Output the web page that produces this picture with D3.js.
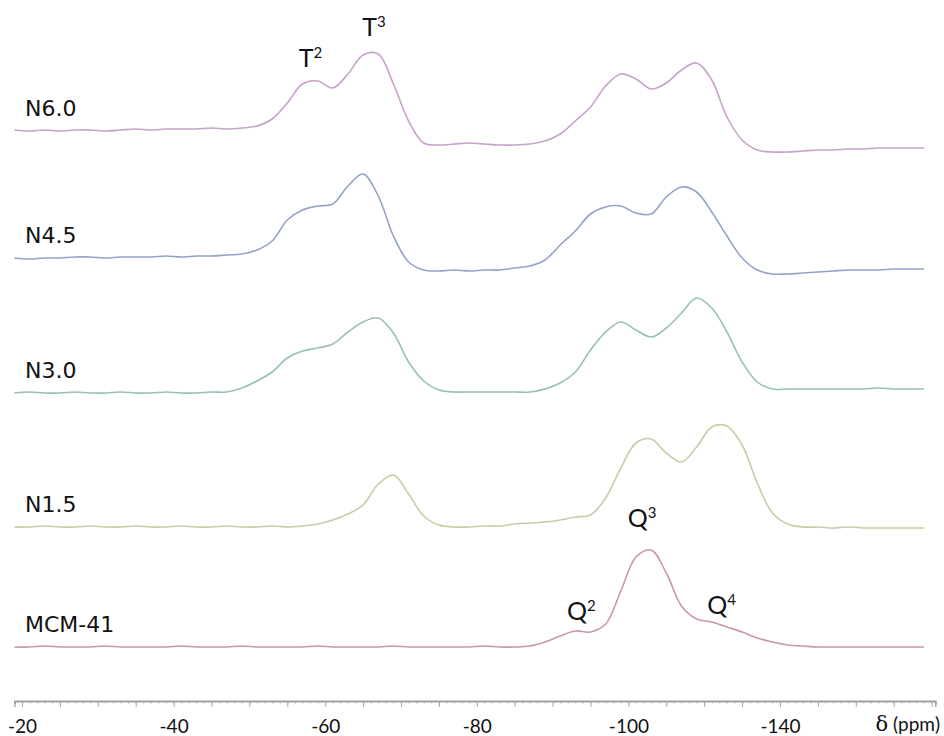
<!DOCTYPE html>
<html>
<head>
<meta charset="utf-8">
<script src="https://cdn.jsdelivr.net/npm/d3@7"></script>
<style>
  body { margin: 0; background: #fff; }
  svg { display: block; }
</style>
</head>
<body>
<div id="chart"></div>
<script>
'use strict';

// chemical shift grid (ppm), shared by every spectrum
const ppm = [-19, -21, -23, -25, -27, -29, -31, -33, -35, -37, -39, -41, -43, -45, -47, -49, -51, -53, -55, -57,
  -59, -61, -63, -65, -67, -69, -71, -73, -75, -77, -79, -81, -83, -85, -87, -89, -91, -93, -95, -97,
  -99, -101, -103, -105, -107, -109, -111, -113, -115, -117, -119, -121, -123, -125, -127, -129, -131, -133, -135, -137, -139];

// intensities (a.u., relative to each trace's own baseline)
const n60 = [1, 0, 1, 0, 1, 1, 0, 1, 2, 1, 2, 2, 2, 3, 2, 3, 5, 12, 28, 47,
  50, 43, 57, 76, 77, 47, 10, -12, -14, -13, -12, -13, -14, -14, -13, -10, -3, 10, 24, 45,
  57, 52, 42, 48, 61, 68, 51, 14, -9, -19, -21, -21, -20, -19, -19, -18, -18, -17, -17, -17, -17];
const n45 = [0, -1, 0, 0, 1, 1, 0, 1, 1, 1, 2, 1, 2, 2, 3, 4, 8, 17, 38, 48,
  52, 54, 72, 84, 62, 22, -4, -12, -13, -12, -13, -12, -12, -10, -8, -2, 13, 27, 44, 51,
  52, 45, 44, 61, 71, 66, 46, 22, 0, -12, -16, -16, -15, -14, -13, -12, -12, -12, -11, -11, -11];
const n30 = [0, 1, 0, 0, 1, 0, 0, 1, 0, 0, 1, 0, 0, 1, 1, 5, 12, 21, 35, 42,
  45, 49, 61, 71, 75, 60, 31, 12, 3, 1, 1, 1, 1, 1, 1, 4, 10, 21, 43, 61,
  71, 63, 56, 65, 80, 95, 85, 61, 31, 11, 4, 4, 4, 4, 4, 4, 4, 5, 4, 4, 4];
const n15 = [0, 0, 1, 0, 0, 1, 0, 0, 1, 0, 0, 1, 0, 0, 1, 0, 0, 1, 0, 1,
  3, 7, 13, 22, 43, 52, 33, 11, 2, 0, 0, 1, 1, 3, 4, 5, 7, 10, 12, 29,
  59, 84, 88, 74, 65, 80, 100, 101, 82, 44, 14, 3, 0, 0, -1, 0, -1, -1, -1, -1, -1];
const mcm41 = [0, 0, 1, 0, 0, 0, 1, 0, 0, 0, 0, 1, 0, 0, 0, 1, 0, 0, 0, 0,
  1, 0, 0, 0, 0, 1, 0, 0, 0, 0, 0, 1, 0, 0, 1, 5, 11, 16, 15, 23,
  56, 90, 97, 74, 41, 28, 25, 20, 15, 9, 5, 2, 1, 0, 0, 0, 0, 0, 0, 0, 0];

const sampleNames = ['MCM-41', 'N1.5', 'N3.0', 'N4.5', 'N6.0'];
const sampleSeries = [mcm41, n15, n30, n45, n60];
const sampleOffsets = [53, 173, 307, 442, 569];
const sampleColors = ['#c997a9', '#c9cba6', '#98c1ae', '#93a3c6', '#c8a2cb'];

// peak assignments: label, superscript, ppm, intensity (a.u.)
const peakNames = ['T', 'T', 'Q', 'Q', 'Q'];
const peakSups = ['2', '3', '2', '3', '4'];
const peakPpm = [-56.5, -64.9, -91.9, -99.9, -110.4];
const peakLevel = [633, 664, 80, 173, 86];

const axisTicks = [-20, -40, -60, -80, -100, -120];
const axisLabels = ['-20', '-40', '-60', '-80', '-100', '-140'];

const width = 944;
const height = 736;

const x = d3.scaleLinear().domain([-20, -120]).range([22, 780]);
const y = d3.scaleLinear().domain([0, 680]).range([700, 20]);
const axisY = 701;

const svg = d3.select('#chart').append('svg')
  .attr('width', width)
  .attr('height', height);

// spectra
const line = d3.line()
  .x(function (d) { return x(d[0]); })
  .y(function (d) { return y(d[1]); })
  .curve(d3.curveCatmullRom.alpha(0.5));

sampleSeries.forEach(function (series, i) {
  const pts = series.map(function (v, j) { return [ppm[j], v + sampleOffsets[i]]; });
  svg.append('path')
    .datum(pts)
    .attr('fill', 'none')
    .attr('stroke', sampleColors[i])
    .attr('stroke-width', 1.6)
    .attr('stroke-linejoin', 'round')
    .attr('d', line);

  svg.append('text')
    .attr('x', 25)
    .attr('y', y(sampleOffsets[i]) - 15)
    .style('font-family', '"DejaVu Sans", Verdana, sans-serif')
    .style('font-size', '22px')
    .style('fill', '#111')
    .text(sampleNames[i]);
});

// peak labels
peakNames.forEach(function (name, i) {
  const t = svg.append('text')
    .attr('x', x(peakPpm[i]))
    .attr('y', y(peakLevel[i]))
    .style('font-family', 'Lato, "Open Sans", sans-serif')
    .style('font-size', '25px')
    .style('fill', '#111');
  t.append('tspan').text(name);
  t.append('tspan')
    .attr('dy', -9)
    .style('font-size', '15px')
    .text(peakSups[i]);
});

// x axis
const axisScale = d3.scaleLinear().domain([-19, -140.5]).range([x(-19), x(-140.5)]);

const minorAxis = svg.append('g')
  .attr('transform', 'translate(0,' + axisY + ')')
  .call(d3.axisBottom(axisScale).tickValues(d3.range(-20, -141, -1)).tickSize(3).tickFormat(''));

const majorAxis = svg.append('g')
  .attr('transform', 'translate(0,' + axisY + ')')
  .call(d3.axisBottom(axisScale).tickValues(d3.range(-20, -141, -5)).tickSize(6).tickFormat(''));

[minorAxis, majorAxis].forEach(function (g) {
  g.select('.domain').attr('stroke', '#9a9a9a').attr('stroke-width', 1.3);
  g.selectAll('.tick line').attr('stroke', '#a8a8a8');
});
minorAxis.selectAll('.tick line').attr('stroke', '#cfcfcf');

const labelAxis = svg.append('g')
  .attr('transform', 'translate(0,' + axisY + ')')
  .call(d3.axisBottom(x).tickValues(axisTicks).tickSize(0)
    .tickFormat(function (d, i) { return axisLabels[i]; }));
labelAxis.select('.domain').remove();
labelAxis.selectAll('.tick text')
  .attr('y', 32)
  .attr('dy', 0)
  .style('font-family', 'Lato, "Open Sans", sans-serif')
  .style('font-size', '19px')
  .style('fill', '#111');

const unit = svg.append('text')
  .attr('x', width - 4)
  .attr('y', axisY + 30)
  .attr('text-anchor', 'end')
  .style('font-family', 'Lato, "Open Sans", sans-serif')
  .style('font-size', '19px')
  .style('fill', '#111');
unit.append('tspan')
  .style('font-family', '"DejaVu Serif", "Liberation Serif", serif')
  .style('font-size', '21px')
  .text('δ');
unit.append('tspan').text(' (ppm)');
</script>
</body>
</html>
